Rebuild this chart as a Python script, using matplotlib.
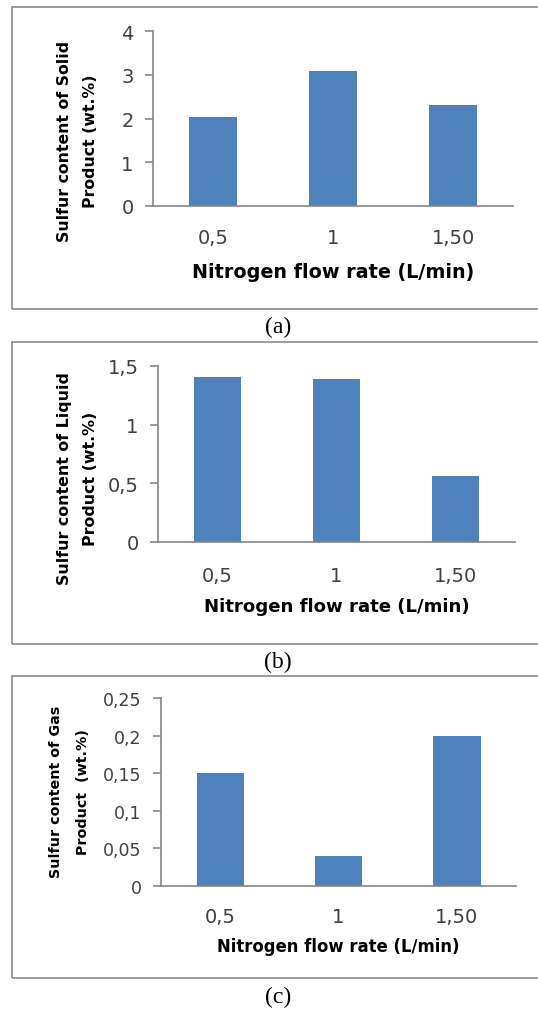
import matplotlib
matplotlib.use("Agg")
import matplotlib.pyplot as plt
from matplotlib.patches import Rectangle

W, H = 538, 1012

categories = ["0,5", "1", "1,50"]

solid_values = [2.03, 3.08, 2.32]
liquid_values = [1.41, 1.39, 0.56]
gas_values = [0.15, 0.04, 0.20]

solid_ticks = [0, 1, 2, 3, 4]
solid_ticklabels = ["0", "1", "2", "3", "4"]
liquid_ticks = [0, 0.5, 1, 1.5]
liquid_ticklabels = ["0", "0,5", "1", "1,5"]
gas_ticks = [0, 0.05, 0.1, 0.15, 0.2, 0.25]
gas_ticklabels = ["0", "0,05", "0,1", "0,15", "0,2", "0,25"]

BAR = "#4F81BD"
AXIS = "#868686"
TEXT = "#404040"

plt.rcParams["font.family"] = ["DejaVu Sans"]

fig = plt.figure(figsize=(W / 100, H / 100), dpi=100)
fig.patch.set_facecolor("white")


def px_axes(left, right, top, bottom):
    return fig.add_axes([left / W, 1 - bottom / H, (right - left) / W, (bottom - top) / H])


def box(top, bottom):
    r = Rectangle((12 / W, 1 - bottom / H), (W + 10 - 12) / W, (bottom - top) / H,
                  transform=fig.transFigure, fill=False, edgecolor="#8a8a8a", lw=1.2)
    fig.patches.append(r)


def panel(rect, values, ticks, ticklabels, ylabel, ylab_xy, ylab_size, ylab_space,
          xlab_y, xlab_size, ytick_size, caption, cap_y, xtick_pad):
    ax = px_axes(*rect)
    x = range(len(categories))
    ax.bar(x, values, width=0.4, color=BAR, zorder=2)
    ax.set_xlim(-0.5, len(categories) - 0.5)
    ax.set_ylim(ticks[0], ticks[-1])
    ax.set_yticks(ticks)
    ax.set_yticklabels(ticklabels)
    ax.set_xticks(list(x))
    ax.set_xticklabels(categories)
    for s in ["top", "right"]:
        ax.spines[s].set_visible(False)
    for s in ["left", "bottom"]:
        ax.spines[s].set_color(AXIS)
        ax.spines[s].set_linewidth(1.2)
    ax.tick_params(axis="y", length=6, width=1.2, color=AXIS, labelsize=ytick_size,
                   labelcolor=TEXT, pad=8)
    ax.tick_params(axis="x", length=0, labelsize=14, labelcolor=TEXT, pad=xtick_pad)
    ax.set_ylabel(ylabel, fontsize=ylab_size, fontweight="bold", linespacing=ylab_space)
    ax.yaxis.set_label_coords(*ylab_xy)
    ax.set_xlabel("Nitrogen flow rate (L/min)", fontsize=xlab_size, fontweight="bold", va="top")
    ax.xaxis.set_label_coords(0.5, xlab_y)
    fig.text(278 / W, 1 - cap_y / H, caption, ha="center", va="center",
             fontsize=17, family="Liberation Serif")
    return ax


box(8, 310)
panel((153, 513, 32, 207), solid_values, solid_ticks, solid_ticklabels,
      "Sulfur content of Solid\nProduct (wt.%)", (-0.152, 0.377), 11.3, 1.9,
      -0.32, 13.8, 14, "(a)", 327, 16)

box(343, 645)
panel((158, 515, 367, 543), liquid_values, liquid_ticks, liquid_ticklabels,
      "Sulfur content of Liquid\nProduct (wt.%)", (-0.168, 0.364), 11.4, 1.9,
      -0.3125, 13.1, 14, "(b)", 662, 17)

box(677, 979)
panel((161, 516, 699, 887), gas_values, gas_ticks, gas_ticklabels,
      "Sulfur content of Gas\nProduct  (wt.%)", (-0.2, 0.505), 10.3, 2.15,
      -0.271, 11.9, 12.5, "(c)", 997, 15)

fig.savefig("out.png", dpi=100, facecolor="white")
